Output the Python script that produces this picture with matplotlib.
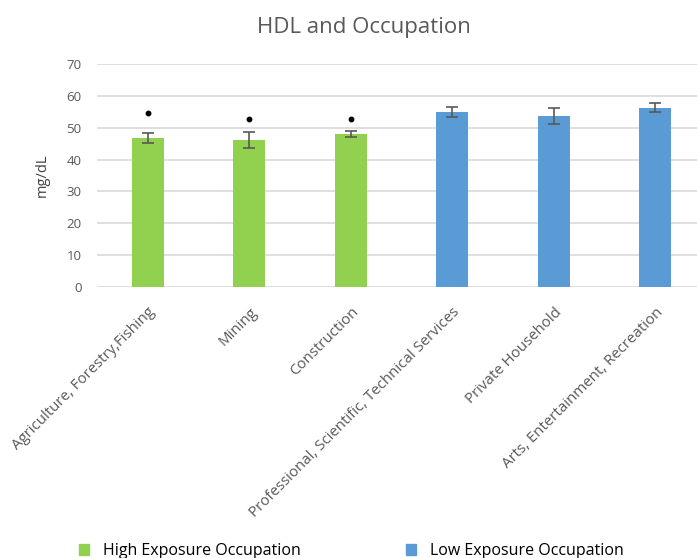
import numpy as np
import matplotlib.pyplot as plt
from matplotlib.patches import Patch

categories = ['Agriculture, Forestry,Fishing', 'Mining', 'Construction',
              'Professional, Scientific, Technical Services', 'Private Household',
              'Arts, Entertainment, Recreation']
hdl = [46.8, 46.3, 48.0, 55.1, 53.7, 56.4]
err = [1.7, 2.5, 1.0, 1.6, 2.6, 1.3]
star_y = [54.8, 52.9, 52.9]
groups = ['High Exposure Occupation', 'Low Exposure Occupation']

green = '#92D050'
blue = '#5B9BD5'
grey = '#595959'
plt.rcParams['font.family'] = ['Open Sans', 'DejaVu Sans']

W, H = 697, 558
fig = plt.figure(figsize=(W / 100, H / 100), dpi=100)
ax = fig.add_axes([97 / W, (H - 286.7) / H, 600 / W, (286.7 - 64.3) / H])

x = np.arange(len(categories))
colors = [green] * 3 + [blue] * 3
ax.bar(x, hdl, width=0.315, color=colors, zorder=2)
ax.errorbar(x, hdl, yerr=err, fmt='none', ecolor=grey, elinewidth=1.2,
            capsize=4, capthick=1.2, zorder=3)
ax.plot(x[:3], star_y, linestyle='none', marker='o', markersize=3.2,
        color='black', zorder=3)

ax.set_xlim(-0.5, 5.41)
ax.set_ylim(0, 70)
ax.set_yticks(range(0, 71, 10))
ax.yaxis.grid(True, color='#D9D9D9', linewidth=1.2, zorder=0)
ax.set_axisbelow(True)
for s in ax.spines.values():
    s.set_visible(False)
ax.tick_params(axis='both', length=0, colors=grey, labelsize=9.5)
ax.tick_params(axis='y', pad=11)
ax.set_xticks(x)
ax.set_xticklabels(categories, rotation=45, ha='right', rotation_mode='anchor',
                   fontsize=10.8, color=grey)
ax.tick_params(axis='x', pad=13)
for lbl in ax.get_xticklabels():
    lbl.set_x(lbl.get_position()[0])
ax.set_ylabel('mg/dL', fontsize=10.5, color='#404040', labelpad=12)

fig.text(364 / W, 1 - 28 / H, 'HDL and Occupation', ha='center', va='center',
         fontsize=16, color=grey)

for lab, col, lx in zip(groups, [green, blue], [79, 406]):
    fig.legend(handles=[Patch(color=col, label=lab)], loc='center left',
               bbox_to_anchor=(lx / W, 1 - 551 / H), frameon=False,
               fontsize=11.5, handlelength=0.6, handleheight=0.7,
               handletextpad=0.9, borderaxespad=0, borderpad=0)

fig.savefig('out.png', dpi=100)
